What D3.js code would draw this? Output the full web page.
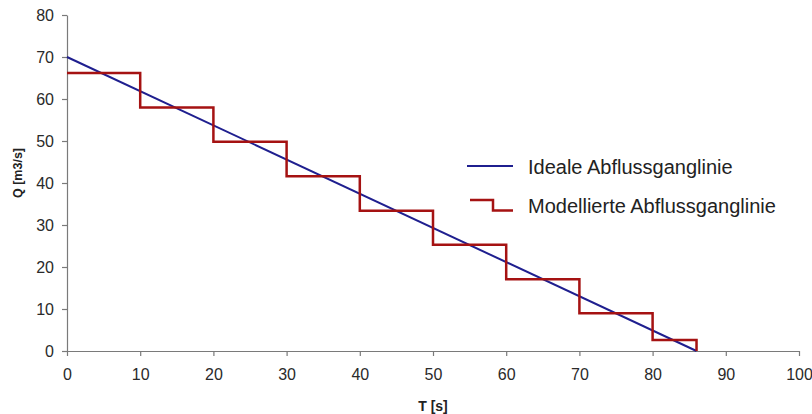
<!DOCTYPE html>
<html>
<head>
<meta charset="utf-8">
<script src="https://cdn.jsdelivr.net/npm/d3@7"></script>
<style>
  body { margin: 0; background: #fff; }
  svg { font-family: "Liberation Sans", Arial, sans-serif; }
</style>
</head>
<body>
<div id="chart"></div>
<script>
// ideal hydrograph (straight line)
var idealT = [0, 86];
var idealQ = [70, 0];
// modelled hydrograph (steps)
var stepT = [0, 10, 20, 30, 40, 50, 60, 70, 80, 86];
var stepQ = [66.2, 58, 49.8, 41.6, 33.4, 25.3, 17.1, 9, 2.6, 0];
var xTicks = [0, 10, 20, 30, 40, 50, 60, 70, 80, 90, 100];
var yTicks = [0, 10, 20, 30, 40, 50, 60, 70, 80];
var legendLabels = ["Ideale Abflussganglinie", "Modellierte Abflussganglinie"];

var width = 812, height = 414;
var marginLeft = 67, marginRight = 13, marginTop = 15, marginBottom = 63;

var svg = d3.select("#chart").append("svg").attr("width", width).attr("height", height);

var x = d3.scaleLinear().domain([0, 100]).range([marginLeft, width - marginRight]);
var y = d3.scaleLinear().domain([0, 80]).range([height - marginBottom, marginTop]);

var axisColor = "#7a7a7a";

var gx = svg.append("g").attr("transform", "translate(0," + (height - marginBottom) + ")")
    .call(d3.axisBottom(x).tickValues(xTicks).tickSize(5).tickPadding(13).tickSizeOuter(0));
var gy = svg.append("g").attr("transform", "translate(" + marginLeft + ",0)")
    .call(d3.axisLeft(y).tickValues(yTicks).tickSize(5).tickPadding(8).tickSizeOuter(0));

[gx, gy].forEach(function(g) {
    g.selectAll("path").attr("stroke", axisColor).attr("stroke-width", 1.2);
    g.selectAll("line").attr("stroke", axisColor).attr("stroke-width", 1.2);
    g.selectAll("text").attr("fill", "#2a2a2a").style("font-size", "16px");
});

svg.append("text")
    .attr("transform", "translate(22,173) rotate(-90)")
    .attr("text-anchor", "middle")
    .attr("font-weight", "bold")
    .attr("font-size", "12.5px")
    .attr("fill", "#222")
    .text("Q [m3/s]");

svg.append("text")
    .attr("x", 433)
    .attr("y", 411)
    .attr("text-anchor", "middle")
    .attr("font-weight", "bold")
    .attr("font-size", "14px")
    .attr("fill", "#222")
    .text("T [s]");

var blue = "#1f1f8f", red = "#a51212";

var idealLine = d3.line().x(function(d) { return x(d[0]); }).y(function(d) { return y(d[1]); });
svg.append("path")
    .datum(idealT.map(function(t, i) { return [t, idealQ[i]]; }))
    .attr("d", idealLine)
    .attr("fill", "none")
    .attr("stroke", blue)
    .attr("stroke-width", 2);

var stepLine = d3.line().curve(d3.curveStepAfter)
    .x(function(d) { return x(d[0]); }).y(function(d) { return y(d[1]); });
svg.append("path")
    .datum(stepT.map(function(t, i) { return [t, stepQ[i]]; }))
    .attr("d", stepLine)
    .attr("fill", "none")
    .attr("stroke", red)
    .attr("stroke-width", 2.5);

// legend
var lg = svg.append("g");
lg.append("line")
    .attr("x1", 467).attr("x2", 513).attr("y1", 166).attr("y2", 166)
    .attr("stroke", blue).attr("stroke-width", 2);
lg.append("path")
    .attr("d", "M470,200 H493 V210.5 H513")
    .attr("fill", "none").attr("stroke", red).attr("stroke-width", 2.5);
lg.selectAll("text.leg").data(legendLabels).enter().append("text")
    .attr("class", "leg")
    .attr("x", 528)
    .attr("y", function(d, i) { return i == 0 ? 174 : 213; })
    .attr("font-size", "20px")
    .attr("fill", "#222")
    .text(function(d) { return d; });
</script>
</body>
</html>
